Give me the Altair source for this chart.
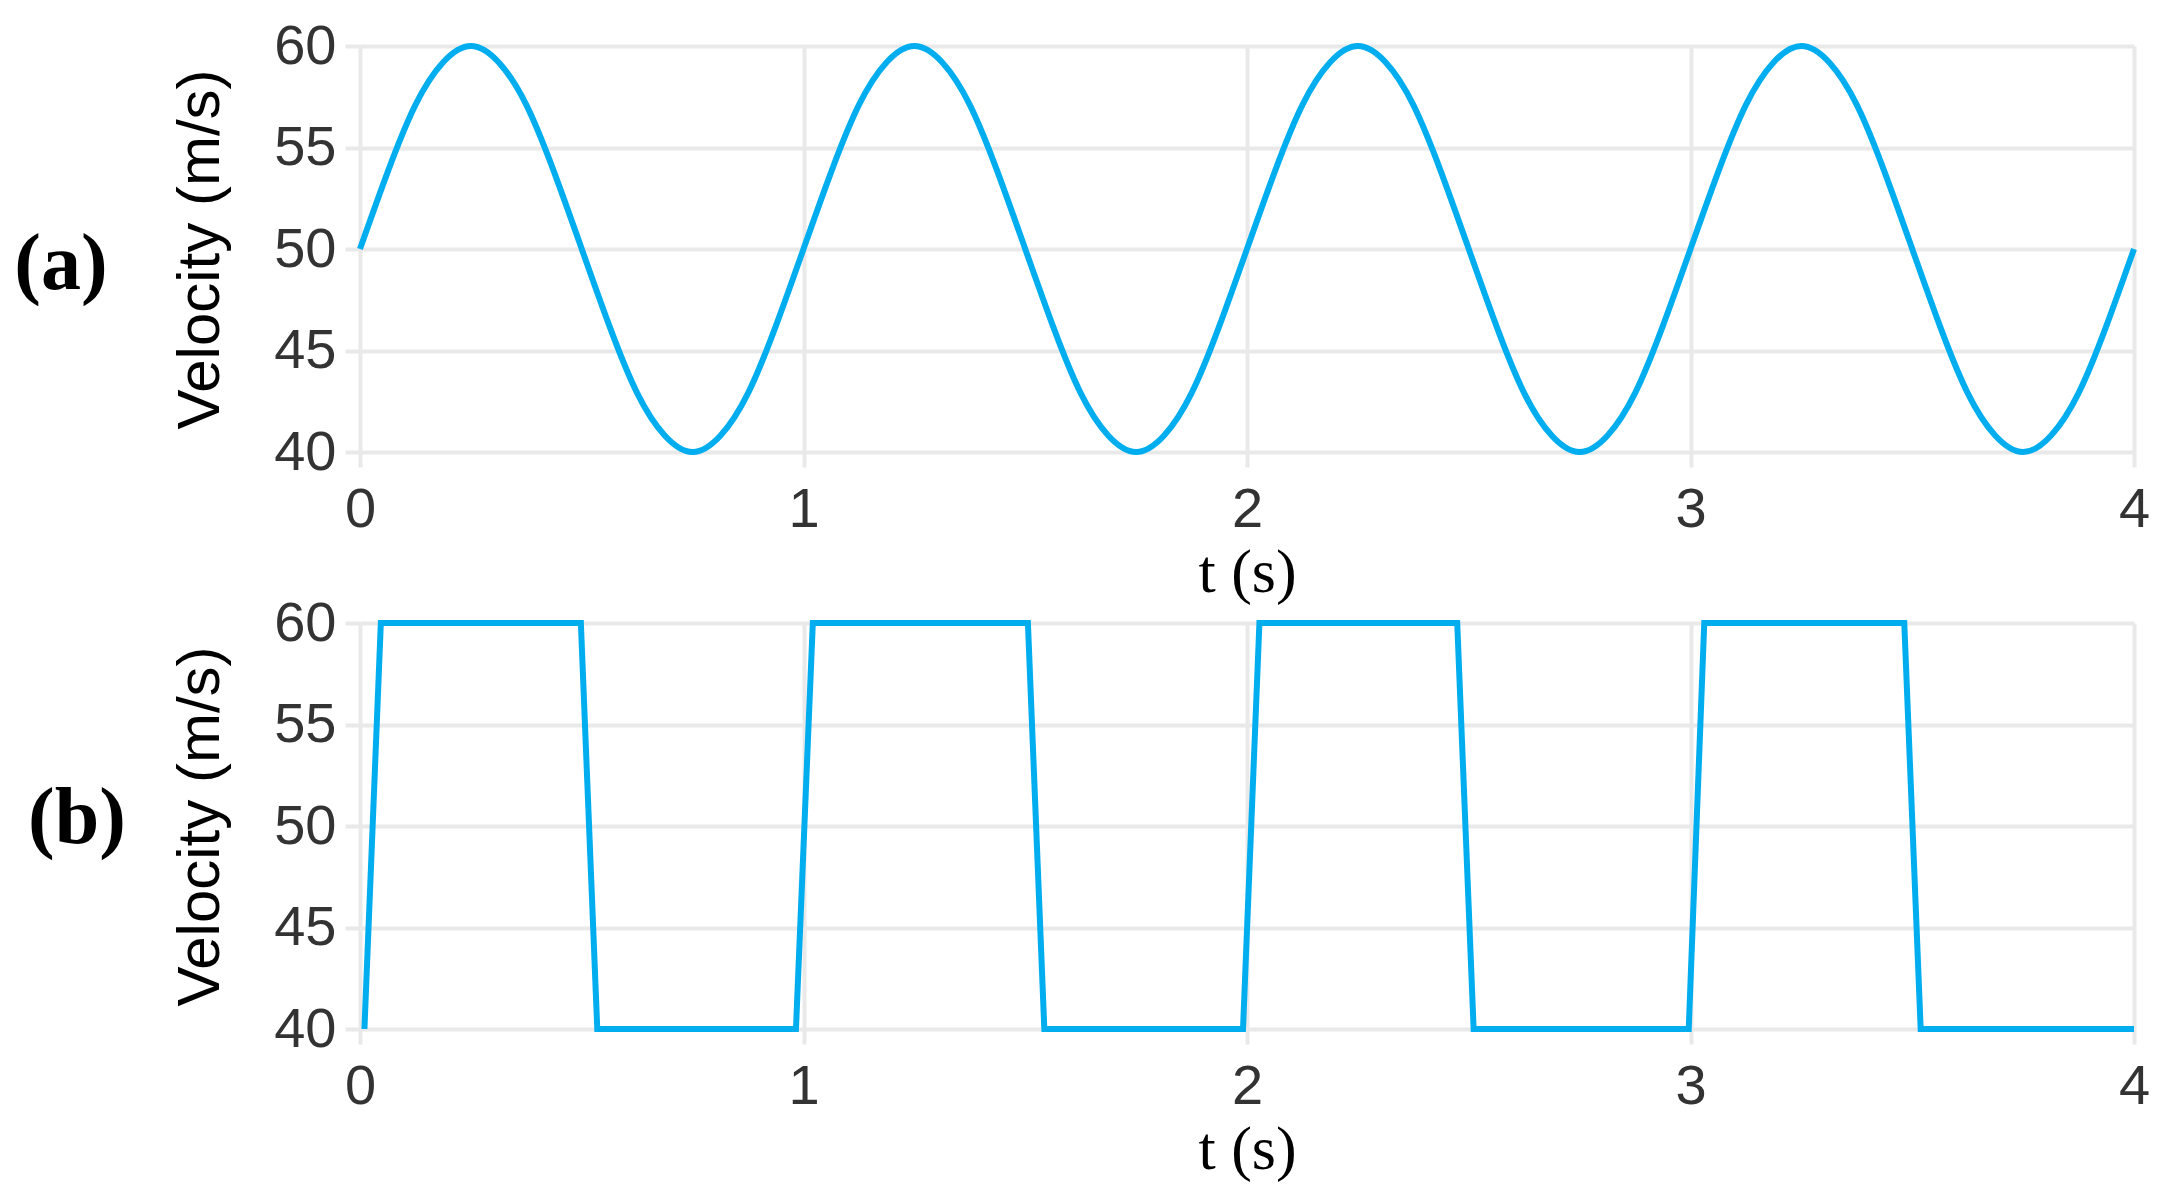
import altair as alt
import pandas as pd

# ---- data ----
t_sine = [0.0, 0.0625, 0.125, 0.1875, 0.25, 0.3125, 0.375, 0.4375, 0.5, 0.5625, 0.625, 0.6875, 0.75, 0.8125, 0.875, 0.9375,
          1.0, 1.0625, 1.125, 1.1875, 1.25, 1.3125, 1.375, 1.4375, 1.5, 1.5625, 1.625, 1.6875, 1.75, 1.8125, 1.875, 1.9375,
          2.0, 2.0625, 2.125, 2.1875, 2.25, 2.3125, 2.375, 2.4375, 2.5, 2.5625, 2.625, 2.6875, 2.75, 2.8125, 2.875, 2.9375,
          3.0, 3.0625, 3.125, 3.1875, 3.25, 3.3125, 3.375, 3.4375, 3.5, 3.5625, 3.625, 3.6875, 3.75, 3.8125, 3.875, 3.9375,
          4.0]
v_sine = [50, 53.8, 57.1, 59.2, 60, 59.2, 57.1, 53.8, 50, 46.2, 42.9, 40.8, 40, 40.8, 42.9, 46.2,
          50, 53.8, 57.1, 59.2, 60, 59.2, 57.1, 53.8, 50, 46.2, 42.9, 40.8, 40, 40.8, 42.9, 46.2,
          50, 53.8, 57.1, 59.2, 60, 59.2, 57.1, 53.8, 50, 46.2, 42.9, 40.8, 40, 40.8, 42.9, 46.2,
          50, 53.8, 57.1, 59.2, 60, 59.2, 57.1, 53.8, 50, 46.2, 42.9, 40.8, 40, 40.8, 42.9, 46.2,
          50]

t_square = [0.01, 0.047, 0.498, 0.535, 0.983, 1.021, 1.506, 1.543, 1.991, 2.028,
            2.474, 2.511, 2.996, 3.031, 3.482, 3.519, 4.0]
v_square = [40, 60, 60, 40, 40, 60, 60, 40, 40, 60,
            60, 40, 40, 60, 60, 40, 40]

x_ticks = [0, 1, 2, 3, 4]
y_ticks = [40, 45, 50, 55, 60]
panel_labels = ["(a)", "(b)"]

sine_df = pd.DataFrame({"t": t_sine, "v": v_sine})
square_df = pd.DataFrame({"t": t_square, "v": v_square})

CYAN = "#00AEEF"
GRID = "#E9E9E9"
W, H = 1774, 406


def panel(df, interp, label, lx, ly):
    x = alt.X("t:Q",
              scale=alt.Scale(domain=[0, 4], nice=False),
              axis=alt.Axis(title="t (s)", values=x_ticks, format="d"))
    y = alt.Y("v:Q",
              scale=alt.Scale(domain=[40, 60], nice=False, zero=False),
              axis=alt.Axis(title="Velocity (m/s)", values=y_ticks, format="d"))
    line = alt.Chart(df).mark_line(color=CYAN, strokeWidth=6, interpolate=interp).encode(x=x, y=y)
    lab = alt.Chart(pd.DataFrame({"label": [label]})).mark_text(
        font="Liberation Serif", fontSize=80, fontWeight="bold", color="black",
        align="center", baseline="middle"
    ).encode(text="label:N", x=alt.value(lx), y=alt.value(ly))
    return alt.layer(line, lab).properties(width=W, height=H)


top = panel(sine_df, "natural", panel_labels[0], -299, 219)
bottom = panel(square_df, "linear", panel_labels[1], -283, 196)

chart = alt.vconcat(top, bottom, spacing=171, bounds="flush").properties(
    padding={"top": 10, "left": 6, "right": 5, "bottom": 5}
).configure_view(stroke=None).configure_axis(
    grid=True, gridColor=GRID, gridWidth=4,
    domain=False,
    ticks=True, tickColor=GRID, tickWidth=4, tickSize=15,
    labelFont="Liberation Sans", labelFontSize=56, labelColor="#333333",
    titleFont="Liberation Sans", titleFontSize=60, titleFontWeight="normal", titleColor="black",
).configure_axisY(
    labelPadding=9, titlePadding=42, labelBaseline="middle"
).configure_axisX(
    labelPadding=15, titlePadding=5, labelFlush=False,
    titleFont="Liberation Serif", titleFontSize=62, titleFontWeight="normal"
)

chart.save("out.html", embed_options={"renderer": "svg", "actions": False})
